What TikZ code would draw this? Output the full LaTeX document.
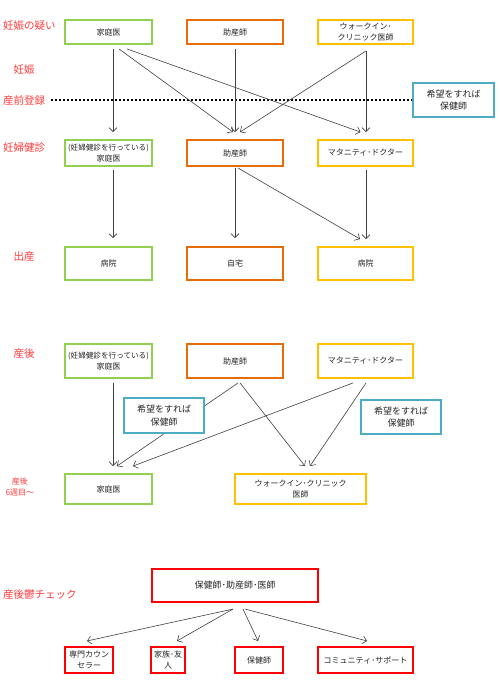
\documentclass[tikz,border=0pt]{standalone}
\usepackage{fontspec}
\setmainfont{Noto Sans CJK JP}
\usetikzlibrary{arrows.meta}
\definecolor{cgreen}{HTML}{92D050}
\definecolor{corange}{HTML}{E46C0A}
\definecolor{cyellow}{HTML}{FFC000}
\definecolor{cblue}{HTML}{4BACC6}
\definecolor{cred}{HTML}{FF0000}
\definecolor{clabel}{HTML}{FF3B3B}
\definecolor{cline}{HTML}{404040}
\tikzset{
  box/.style={draw, line width=1.9pt, fill=white, align=center, inner sep=1pt,
    font=\fontsize{8}{10.5}\selectfont, text=black!85},
  gbox/.style={box, draw=cgreen},
  obox/.style={box, draw=corange},
  ybox/.style={box, draw=cyellow},
  bbox/.style={box, draw=cblue, font=\fontsize{9}{12.5}\selectfont},
  rbox/.style={box, draw=cred, line width=2.1pt},
  lab/.style={text=clabel, font=\fontsize{10.5}{12}\selectfont, inner sep=0},
  arr/.style={draw=cline, line width=0.6pt, -{Straight Barb[length=4pt,width=8pt]}},
}
\begin{document}
\begin{tikzpicture}[x=1pt,y=-1pt]
\useasboundingbox (0,0) rectangle (500,685);
% row 1
\node[gbox, minimum width=87, minimum height=24] (f1) at (108.5,32) {家庭医};
\node[obox, minimum width=96, minimum height=24] (m1) at (235,32) {助産師};
\node[ybox, minimum width=95, minimum height=24] (w1) at (365.5,32) {ウォークイン･\\クリニック医師};
\node[bbox, minimum width=81, minimum height=34] (b1) at (453.5,100) {希望をすれば\\保健師};
% labels
\node[lab, anchor=west] (l1) at (3,26) {妊娠の疑い};
\node[lab] (l2) at (24,70) {妊娠};
\node[lab, anchor=west] (l3) at (3,100) {産前登録};
\node[lab, anchor=west] (l4) at (3,148) {妊婦健診};
\node[lab] (l5) at (24,257) {出産};
\node[lab] (l6) at (24,354) {産後};
\node[lab, align=center, font=\fontsize{8}{11}\selectfont] (l7) at (20,487) {産後\\6週目〜};
\node[lab, anchor=west] (l8) at (3,595) {産後鬱チェック};
% dotted
\draw[line width=1.6pt, dash pattern=on 1.4pt off 2.6pt, black] ([xshift=6]l3.east) -- (b1.west);
% row 2
\node[gbox, minimum width=87, minimum height=26] (f2) at (108.5,153) {{\fontsize{7.6}{9.5}\selectfont (妊婦健診を行っている)}\\家庭医};
\node[obox, minimum width=96, minimum height=26] (m2) at (235,153) {助産師};
\node[ybox, minimum width=95, minimum height=26] (d2) at (365.5,153) {マタニティ･ドクター};
% row 3
\node[gbox, minimum width=87, minimum height=33] (h3) at (108.5,263.5) {病院};
\node[obox, minimum width=96, minimum height=33] (j3) at (235,263.5) {自宅};
\node[ybox, minimum width=95, minimum height=33] (k3) at (365.5,263.5) {病院};
% row 1 -> 2
\draw[arr] ([xshift=4.5,yshift=-4]f1.south) -- ([xshift=4.5,yshift=7]f2.north);
\draw[arr] ([xshift=10.5,yshift=-4]f1.south) -- ([xshift=-2,yshift=7]m2.north);
\draw[arr] ([xshift=18.5,yshift=-4]f1.south) -- ([xshift=-5,yshift=7]d2.north);
\draw[arr] ([yshift=-4]m1.south) -- ([yshift=7]m2.north);
\draw[arr] ([xshift=0.5,yshift=-6]w1.south) -- ([xshift=5,yshift=7]m2.north);
\draw[arr] ([xshift=0.5,yshift=-6]w1.south) -- ([xshift=0.5,yshift=7]d2.north);
% row 2 -> 3
\draw[arr] ([xshift=4.5,yshift=-3]f2.south) -- ([xshift=4.5,yshift=8]h3.north);
\draw[arr] ([yshift=-1]m2.south) -- ([yshift=8]j3.north);
\draw[arr] ([xshift=3,yshift=-1]m2.south) -- ([xshift=-5.5,yshift=7]k3.north);
\draw[arr] ([xshift=0.5,yshift=-3]d2.south) -- ([xshift=0.5,yshift=7]k3.north);
% row 4
\node[gbox, minimum width=87, minimum height=34] (f4) at (108.5,361) {{\fontsize{7.6}{9.5}\selectfont (妊婦健診を行っている)}\\家庭医};
\node[obox, minimum width=96, minimum height=34] (m4) at (235,361) {助産師};
\node[ybox, minimum width=95, minimum height=34] (d4) at (365.5,361) {マタニティ･ドクター};
% row 5
\node[gbox, minimum width=87, minimum height=30] (f5) at (108.5,489) {家庭医};
\node[ybox, minimum width=131, minimum height=30] (w5) at (300.5,489) {ウォークイン･クリニック\\医師};
% row 4 -> 5
\draw[arr] ([xshift=4.5,yshift=-4]f4.south) -- ([xshift=4.5,yshift=7]f5.north);
\draw[arr] ([xshift=3,yshift=-4]m4.south) -- ([xshift=8.5,yshift=7]f5.north);
\draw[arr] ([xshift=5,yshift=-4]m4.south) -- ([xshift=4.5,yshift=7]w5.north);
\draw[arr] ([xshift=-12.5,yshift=-4]d4.south) -- ([xshift=24.5,yshift=7]f5.north);
\draw[arr] ([xshift=0.5,yshift=-4]d4.south) -- ([xshift=9.5,yshift=7]w5.north);
% blue boxes on top
\node[bbox, minimum width=80, minimum height=35] (b4) at (164,415.5) {希望をすれば\\保健師};
\node[bbox, minimum width=80, minimum height=34] (b5) at (401,417) {希望をすれば\\保健師};
% row 6
\node[rbox, minimum width=166, minimum height=33, font=\fontsize{9}{11}\selectfont] (r0) at (235,585.5) {保健師･助産師･医師};
\node[rbox, minimum width=48, minimum height=26] (r1) at (89,660) {専門カウン\\セラー};
\node[rbox, minimum width=34, minimum height=26] (r2) at (168,660) {家族･友\\人};
\node[rbox, minimum width=48, minimum height=26] (r3) at (259,660) {保健師};
\node[rbox, minimum width=95, minimum height=26] (r4) at (365.5,660) {コミュニティ･サポート};
\draw[arr] ([xshift=-2,yshift=-6]r0.south) -- ([xshift=-2,yshift=5]r1.north);
\draw[arr] ([xshift=-2,yshift=-6]r0.south) -- ([xshift=9,yshift=5]r2.north);
\draw[arr] ([xshift=8,yshift=-6]r0.south) -- ([xshift=-1,yshift=5]r3.north);
\draw[arr] ([xshift=10,yshift=-6]r0.south) -- ([xshift=1.5,yshift=5]r4.north);
\end{tikzpicture}
\end{document}
